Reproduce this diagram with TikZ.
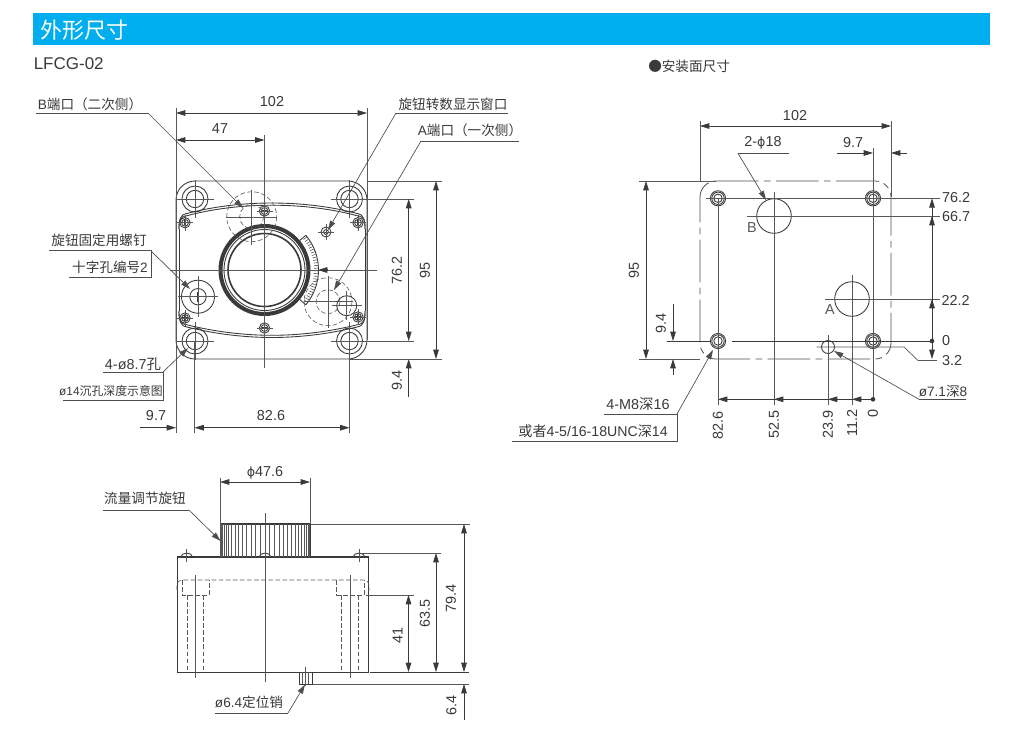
\documentclass[tikz,border=0pt]{standalone}
\usepackage{fontspec}
\usetikzlibrary{arrows.meta}
\setmainfont{Liberation Sans}
\newfontfamily\cjk{Noto Sans CJK SC}
\newfontfamily\djv{DejaVu Sans}
\newcommand{\zh}[1]{{\cjk #1}}
\definecolor{hdr}{HTML}{00AEEF}
\definecolor{ink}{HTML}{3A3A3A}
\tikzset{
  ln/.style={draw=ink,line width=.65pt},
  thk/.style={draw=ink,line width=1pt},
  dimln/.style={draw=ink,line width=.55pt},
  extln/.style={draw=ink!85,line width=.5pt},
  ctr/.style={draw=ink!85,line width=.45pt},
  hid/.style={draw=ink!85,line width=.45pt,dash pattern=on 3.5pt off 1.8pt},
  phant/.style={draw=ink!90,line width=.6pt,dash pattern=on 32pt off 4pt on 5pt off 4pt},
  lead/.style={draw=ink!90,line width=.5pt},
  lab/.style={inner sep=0pt,text=ink,font=\fontsize{10.2pt}{12pt}\selectfont},
  dimt/.style={inner sep=0pt,text=ink,font=\fontsize{10.8pt}{12pt}\selectfont},
  rdimt/.style={dimt,rotate=90}
}
\newcommand{\crewhead}[2]{%
  \draw[ln] (#1,#2) circle (5.2);
  \draw[ln] (#1,#2) circle (3.4);
  \draw[thk] (#1-2.6,#2) -- (#1+2.6,#2) (#1,#2-2.6) -- (#1,#2+2.6);
  \draw[ctr] (#1-8,#2) -- (#1+8,#2) (#1,#2-8) -- (#1,#2+8);
}
\newcommand{\ringhole}[2]{%
  \draw[ln] (#1,#2) circle (13);
  \draw[ln] (#1,#2) circle (8.7);
  \draw[ctr] (#1-19,#2) -- (#1+19,#2) (#1,#2-19) -- (#1,#2+19);
}
\newcommand{\mounthole}[2]{%
  \draw[ln] (#1,#2) circle (7.6);
  \draw[ln] (#1,#2) circle (6.2);
  \draw[ln] (#1,#2) circle (4.2);
}
\newcommand{\domehead}[1]{%
  \draw[ln] (#1-6,557) .. controls (#1-5,551.8) and (#1+5,551.8) .. (#1+6,557);
  \draw[ctr] (#1,549) -- (#1,562);
}
\begin{document}
\begin{tikzpicture}[x=.75pt,y=-.75pt,>={Triangle[length=7pt,width=4.2pt]}]
\useasboundingbox (0,0) rectangle (1024,729);
\fill[white] (0,0) rectangle (1024,729);
% header
\node[fill=hdr,minimum width=717.75pt,minimum height=24pt,inner sep=0pt,anchor=north west] (band) at (33,13) {};
\node[inner sep=0pt,anchor=west,text=white,font=\fontsize{16.5pt}{18pt}\selectfont\cjk] (title) at (40,30) {外形尺寸};
\node[inner sep=0pt,anchor=west,text=ink,font=\fontsize{12.75pt}{14pt}\selectfont] (model) at (33.5,64) {LFCG-02};
\node[lab,anchor=west] (mount) at (648,66) {\zh{●安装面尺寸}};

%% ---------- FRONT VIEW ----------
\draw[ln] (195,181) -- (348,181) arc (-90:0:19) -- (367,340) arc (0:90:19) -- (195,359) arc (90:180:19) -- (176,200) arc (180:270:19);
\foreach \x in {195,349.5}{\foreach \y in {199,341}{\ringhole{\x}{\y}}}
% body
\foreach \d in {0,2.2}{
  \draw[ln] (179,229) .. controls (179,220) and (180,{214.5+\d}) .. (187,{213.5+\d})
     .. controls (215,{206+\d}) and (245,{203+\d}) .. (272,{203+\d})
     .. controls (299,{203+\d}) and (329,{206+\d}) .. (357,{213.5+\d})
     .. controls (364,{214.5+\d}) and (365,220) .. (365,229);
  \draw[ln] (179,311) .. controls (179,320) and (180,{326-\d}) .. (187,{327-\d})
     .. controls (215,{334-\d}) and (245,{337.5-\d}) .. (272,{337.5-\d})
     .. controls (299,{337.5-\d}) and (329,{334-\d}) .. (357,{327-\d})
     .. controls (364,{326-\d}) and (365,320) .. (365,311);
}
\draw[ln] (179,229) -- (179,311) (365,229) -- (365,311);
% screws
\crewhead{185}{222.7}\crewhead{358}{222.7}\crewhead{185}{318}\crewhead{358}{317}
\crewhead{264.5}{211}\crewhead{264.5}{328}
% knob rings
\draw[ink,line width=3pt] (264.5,270) circle (44);
\draw[ln] (264.5,270) circle (40.5);
\draw[ink,line width=1.2pt] (264.5,270) circle (36.5);
% scale
\draw[ln] ([shift={(-40:54)}]264.5,270) arc (-40:40:54);
\draw[ln] ([shift={(-40:46)}]264.5,270) -- ([shift={(-40:54)}]264.5,270);
\draw[ln] ([shift={(40:46)}]264.5,270) -- ([shift={(40:54)}]264.5,270);
\foreach \a in {-38,-35,...,38}{\draw[ctr] ([shift={(\a:49.5)}]264.5,270) -- ([shift={(\a:53.5)}]264.5,270);}
% ports
\draw[hid] (251.7,216.7) circle (25);
\draw[hid] (251.7,216.7) circle (12);
\draw[ctr] (226,217) -- (277,217) (251.7,190) -- (251.7,245);
\draw[hid] (328,301.7) circle (24);
\draw[hid] (328,301.7) circle (12);
\draw[ctr] (304,301.7) -- (353,301.7) (328,276) -- (328,328);
\draw[ln] (346.7,305.7) circle (10);
\draw[ctr] (332,305.7) -- (362,305.7) (346.7,291) -- (346.7,320);
\draw[ln] (326,232) circle (5);
\draw[ln] (326,232) circle (2.4);
\draw[ctr] (318,232) -- (334,232) (326,224) -- (326,240);
% left screw
\draw[ln] (198,296.7) circle (16.5);
\draw[ln] (198,296.7) circle (8.2);
\draw[thk] (193,296.7) -- (203,296.7) (198,291.7) -- (198,301.7);
\draw[ctr] (178,296.7) -- (218,296.7) (198,276) -- (198,317);
% centre lines
\draw[ctr] (264.5,135) -- (264.5,368);
\draw[ctr] (170,270) -- (377,270);
\draw[->,thk] (328,270) -- (318,270);
% ext lines
\draw[extln] (176,108) -- (176,433);
\draw[extln] (367,108) -- (367,340);
\draw[extln] (194.5,341) -- (194.5,433);
\draw[extln] (349.5,341) -- (349.5,433);
\draw[extln] (367,181) -- (442,181);
\draw[extln] (349,359) -- (442,359);
\draw[extln] (369,199) -- (414,199);
\draw[extln] (369,341) -- (414,341);
% dims
\draw[<->,dimln] (176,113) -- (367,113);
\node[dimt] (d102a) at (272,102) {102};
\draw[<->,dimln] (176,140) -- (264.5,140);
\node[dimt] (d47) at (220,129) {47};
\draw[<->,dimln] (436,181) -- (436,359);
\node[rdimt] (d95a) at (425,270) {95};
\draw[<->,dimln] (408.7,199) -- (408.7,341);
\node[rdimt] (d76a) at (397,270) {76.2};
\draw[<-,dimln] (408.7,359) -- (408.7,397);
\node[rdimt] (d94a) at (397,380) {9.4};
\draw[->,dimln] (140,427.7) -- (176,427.7);
\draw[<->,dimln] (194.5,427.7) -- (349.5,427.7);
\node[dimt] (d97a) at (156,416) {9.7};
\node[dimt] (d826a) at (271,416) {82.6};
% labels front
\node[lab] (lb) at (90,104) {B\zh{端口（二次侧）}};
\coordinate (lbe) at (148,113); \coordinate (lbs) at (36,113); \coordinate (lbt) at (243,208);
\draw[lead] (lbs) -- (lbe); \draw[->,lead] (lbe) -- (lbt);
\node[lab] (ls) at (99,240) {\zh{旋钮固定用螺钉}};
\coordinate (lss) at (49,250); \coordinate (lse) at (150,250); \coordinate (lst) at (190,289);
\draw[lead] (lss) -- (lse); \draw[->,lead] (lse) -- (lst);
\node[lab] (lx) at (110,267) {\zh{十字孔编号}2};
\coordinate (lxs) at (69,277); \coordinate (lxe) at (151,277);
\draw[lead] (lxs) -- (lxe) -- (151,250);
\node[dimt] (lh) at (133,364) {4-ø8.7\zh{孔}};
\coordinate (lhs) at (103,372); \coordinate (lhe) at (163,372); \coordinate (lht) at (188,348);
\draw[lead] (lhs) -- (lhe); \draw[->,lead] (lhe) -- (lht);
\node[lab,font=\fontsize{8.9pt}{10pt}\selectfont] (lc) at (111,390.5) {ø14\zh{沉孔深度示意图}};
\coordinate (lcs) at (63,400); \coordinate (lce) at (163,400);
\draw[lead] (lcs) -- (lce) -- (lhe);
\node[lab] (lw) at (453,104) {\zh{旋钮转数显示窗口}};
\coordinate (lwe) at (396,113); \coordinate (lws) at (508,113); \coordinate (lwt) at (328,230);
\draw[lead] (lws) -- (lwe); \draw[->,lead] (lwe) -- (lwt);
\node[lab] (la) at (470,130) {A\zh{端口（一次侧）}};
\coordinate (lae) at (421,141); \coordinate (las) at (519,141); \coordinate (lat) at (334,290);
\draw[lead] (las) -- (lae); \draw[->,lead] (lae) -- (lat);

%% ---------- SIDE VIEW ----------
\draw[ln] (177,557) rectangle (368.5,672);
\draw[ink,line width=1.3pt] (177,557) -- (368.5,557);
\draw[ln] (177,672) -- (369,672);
\draw[ln] (220,557) -- (220,524) -- (310,524) -- (310,557);
\draw[ink,line width=.9pt] (220,524) -- (310,524);
\foreach \a in {-84,-78,...,84}{\draw[ctr] ({265+45*sin(\a)},524) -- ({265+45*sin(\a)},557);}
\domehead{186.7}\domehead{265}\domehead{359}
% hidden
\draw[hid] (177,590) -- (177,586) .. controls (177,582) and (179,580) .. (183,580) -- (363,580) .. controls (367,580) and (369,582) .. (369,586) -- (369,590);
\draw[hid] (182,580) -- (182,595) -- (209,595) -- (209,580);
\draw[hid] (187,595) -- (187,672) (203.3,595) -- (203.3,672);
\draw[hid] (336.7,580) -- (336.7,595) -- (364,595) -- (364,580);
\draw[hid] (341.7,595) -- (341.7,672) (358,595) -- (358,672);
\draw[ctr] (195,575) -- (195,678) (350,575) -- (350,678);
\draw[ctr] (265,513) -- (265,682);
% pin
\draw[ln] (299,672) -- (299,684) -- (312,684) -- (312,672);
\draw[ctr] (302.5,672) -- (302.5,684) (308.5,672) -- (308.5,684);
\draw[ctr] (305,667) -- (305,686);
% ext
\draw[extln] (220,478) -- (220,524);
\draw[extln] (310,478) -- (310,524);
\draw[extln] (311,524) -- (470,524);
\draw[extln] (362,553) -- (441,553);
\draw[extln] (366,595) -- (414,595);
\draw[ln] (370,672) -- (469,672);
\draw[extln] (313,684) -- (469,684);
% dims
\draw[<->,dimln] (220,482) -- (310,482);
\node[dimt] (dk) at (265,473) {\djv\fontsize{9.5pt}{12pt}\selectfont ϕ{\rmfamily\fontsize{10.8pt}{12pt}\selectfont 47.6}};
\draw[<->,dimln] (464,524) -- (464,672);
\node[rdimt] (d79) at (451,598) {79.4};
\draw[<->,dimln] (436,553) -- (436,672);
\node[rdimt] (d63) at (425,613) {63.5};
\draw[<->,dimln] (408.5,595) -- (408.5,672);
\node[rdimt] (d41) at (397.7,635) {41};
\draw[<-,dimln] (464,684) -- (464,720);
\node[rdimt] (d64) at (451.5,705) {6.4};
% labels side
\node[lab] (lk) at (145,498) {\zh{流量调节旋钮}};
\coordinate (lks) at (103,510); \coordinate (lke) at (189,510); \coordinate (lkt) at (220.5,541);
\draw[lead] (lks) -- (lke); \draw[->,lead] (lke) -- (lkt);
\node[dimt,font=\fontsize{10.2pt}{12pt}\selectfont] (lp) at (249,702) {ø6.4\zh{定位销}};
\coordinate (lps) at (215,713); \coordinate (lpe) at (288,713); \coordinate (lpt) at (305,684.5);
\draw[lead] (lps) -- (lpe); \draw[->,lead] (lpe) -- (lpt);

%% ---------- MOUNTING FACE ----------
\draw[phant] (716,181) -- (875,181) arc (-90:0:16) -- (891,343) arc (0:90:16) -- (716,359) arc (90:180:16) -- (700,197) arc (180:270:16);
\mounthole{718}{198.3}\mounthole{873}{198.3}\mounthole{718}{341}\mounthole{873}{341}
\draw[ln] (774,216) circle (17.3);
\draw[ln] (852,299) circle (17.3);
\draw[ln] (828,347) circle (6.5);
\node[dimt,text=ink!85] (pb) at (752,228) {B};
\node[dimt,text=ink!85] (pa) at (830,310) {A};
% lines
\draw[extln] (700,120.7) -- (700,181) (891,120.7) -- (891,197);
\draw[extln] (873,148) -- (873,400);
\draw[ctr] (718,198) -- (718,405) (774,192) -- (774,405) (852,275) -- (852,405) (828,335) -- (828,405);
\draw[extln] (705.7,198.3) -- (940,198.3);
\draw[extln] (747,216) -- (940,216);
\draw[extln] (825,299) -- (940,299);
\draw[ln] (667,341) -- (710,341) (732,341) -- (932,341);
\draw[extln] (639,181) -- (716,181);
\draw[extln] (639,359) -- (700,359);
\draw[extln] (816.7,347) -- (904,347) -- (918,360.5) -- (937,360.5);
% dims
\draw[<->,dimln] (700,126) -- (891,126);
\node[dimt] (d102b) at (795,116) {102};
\draw[->,dimln] (837,153) -- (873,153);
\draw[<-,dimln] (891,153) -- (907,153);
\node[dimt] (d97b) at (853,143) {9.7};
\draw[<->,dimln] (646,181) -- (646,359);
\node[rdimt] (d95b) at (634,270) {95};
\draw[->,dimln] (673,304) -- (673,341);
\draw[<-,dimln] (673,359) -- (673,375);
\node[rdimt] (d94b) at (661,323) {9.4};
\draw[ink,line width=.7pt,->] (932,341) -- (932,198.3);
\draw[->,dimln] (932,341) -- (932,216);
\draw[->,dimln] (932,341) -- (932,299);
\draw[->,dimln] (932,341) -- (932,359);
\fill[ink] (932,341) circle (2.3);
\node[dimt] (v762) at (956,198) {76.2};
\node[dimt] (v667) at (956,216.5) {66.7};
\node[dimt] (v222) at (955.7,300) {22.2};
\node[dimt] (v0) at (946,341) {0};
\node[dimt] (v32) at (952,361) {3.2};
\draw[->,dimln] (873,399.3) -- (718,399.3);
\draw[->,dimln] (873,399.3) -- (774,399.3);
\draw[->,dimln] (873,399.3) -- (828,399.3);
\draw[->,dimln] (873,399.3) -- (852,399.3);
\fill[ink] (873,399.3) circle (2.3);
\node[rdimt] (h826) at (718,425) {82.6};
\node[rdimt] (h525) at (774,424) {52.5};
\node[rdimt] (h239) at (828,424) {23.9};
\node[rdimt] (h112) at (852,423) {11.2};
\node[rdimt] (h0) at (873,413) {0};
% labels
\node[dimt] (lphi) at (763,143) {2-{\djv\fontsize{9.5pt}{12pt}\selectfont ϕ}18};
\coordinate (lphis) at (738,153.3); \coordinate (lphie) at (789,153.3); \coordinate (lphit) at (766,200);
\draw[lead] (lphie) -- (lphis); \draw[->,lead] (lphis) -- (lphit);
\node[dimt] (lm) at (638,404) {4-M8\zh{深}16};
\coordinate (lms) at (604,414); \coordinate (lme) at (677,414); \coordinate (lmt) at (713,350);
\draw[lead] (lms) -- (lme); \draw[->,lead] (lme) -- (lmt);
\node[dimt,font=\fontsize{10.6pt}{12pt}\selectfont] (lo) at (593,431) {\zh{或者}4-5/16-18UNC\zh{深}14};
\coordinate (los) at (512,441); \coordinate (loe) at (677,441);
\draw[lead] (los) -- (loe) -- (lme);
\node[dimt,font=\fontsize{10.2pt}{12pt}\selectfont] (lq) at (943,391) {ø7.1\zh{深}8};
\coordinate (lqs) at (966,399.3); \coordinate (lqe) at (919,399.3); \coordinate (lqt) at (834,351);
\draw[lead] (lqs) -- (lqe); \draw[->,lead] (lqe) -- (lqt);
\end{tikzpicture}
\end{document}
